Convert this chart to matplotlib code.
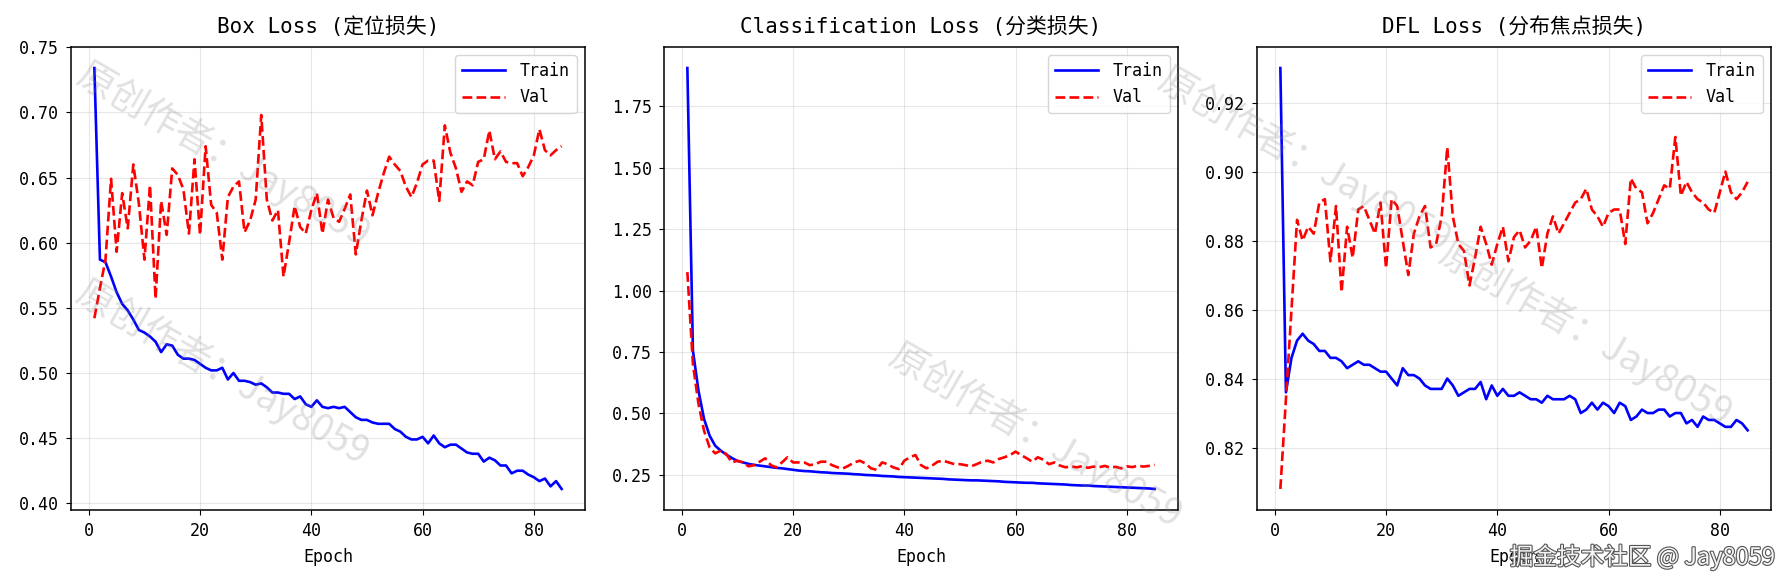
import matplotlib
matplotlib.use("Agg")
import matplotlib.pyplot as plt
import matplotlib.patheffects as pe

plt.rcParams['font.family'] = ['DejaVu Sans Mono', 'Noto Sans CJK SC']
plt.rcParams['axes.unicode_minus'] = False

epochs = list(range(1, 86))

box_train = [0.734, 0.587, 0.585, 0.574, 0.562, 0.553, 0.548, 0.541, 0.533, 0.531,
             0.528, 0.524, 0.516, 0.522, 0.521, 0.514, 0.511, 0.511, 0.510, 0.507,
             0.504, 0.502, 0.502, 0.504, 0.495, 0.500, 0.494, 0.494, 0.493, 0.491,
             0.492, 0.489, 0.485, 0.485, 0.484, 0.484, 0.480, 0.482, 0.476, 0.474,
             0.479, 0.474, 0.473, 0.474, 0.473, 0.474, 0.470, 0.466, 0.464, 0.464,
             0.462, 0.461, 0.461, 0.461, 0.457, 0.455, 0.451, 0.449, 0.449, 0.451,
             0.446, 0.452, 0.446, 0.443, 0.445, 0.445, 0.442, 0.439, 0.438, 0.438,
             0.432, 0.435, 0.433, 0.429, 0.429, 0.423, 0.425, 0.425, 0.422, 0.420,
             0.417, 0.419, 0.413, 0.417, 0.411]
box_val = [0.542, 0.565, 0.587, 0.649, 0.593, 0.638, 0.611, 0.660, 0.630, 0.587,
           0.644, 0.557, 0.632, 0.606, 0.657, 0.652, 0.641, 0.607, 0.664, 0.606,
           0.674, 0.629, 0.623, 0.587, 0.635, 0.643, 0.647, 0.608, 0.617, 0.633,
           0.698, 0.633, 0.617, 0.625, 0.574, 0.600, 0.628, 0.612, 0.607, 0.625,
           0.638, 0.607, 0.633, 0.619, 0.616, 0.626, 0.637, 0.591, 0.617, 0.640,
           0.621, 0.638, 0.653, 0.666, 0.660, 0.655, 0.643, 0.635, 0.646, 0.660,
           0.663, 0.663, 0.632, 0.690, 0.669, 0.657, 0.639, 0.647, 0.644, 0.662,
           0.664, 0.686, 0.664, 0.670, 0.662, 0.661, 0.661, 0.651, 0.658, 0.667,
           0.687, 0.671, 0.667, 0.671, 0.674]

cls_train = [1.906, 0.755, 0.592, 0.477, 0.409, 0.368, 0.348, 0.332, 0.318, 0.306,
             0.300, 0.294, 0.290, 0.287, 0.284, 0.281, 0.278, 0.276, 0.273, 0.270,
             0.267, 0.265, 0.264, 0.262, 0.260, 0.259, 0.257, 0.256, 0.255, 0.254,
             0.252, 0.251, 0.249, 0.248, 0.247, 0.245, 0.244, 0.243, 0.241, 0.240,
             0.239, 0.238, 0.237, 0.236, 0.235, 0.234, 0.233, 0.231, 0.230, 0.229,
             0.228, 0.227, 0.227, 0.226, 0.225, 0.224, 0.223, 0.221, 0.220, 0.219,
             0.218, 0.217, 0.217, 0.215, 0.214, 0.213, 0.212, 0.211, 0.210, 0.208,
             0.207, 0.206, 0.206, 0.204, 0.203, 0.202, 0.201, 0.200, 0.199, 0.198,
             0.197, 0.196, 0.195, 0.194, 0.192]
cls_val = [1.075, 0.700, 0.538, 0.429, 0.361, 0.337, 0.348, 0.334, 0.300, 0.307,
           0.300, 0.284, 0.289, 0.303, 0.317, 0.289, 0.280, 0.300, 0.321, 0.300,
           0.300, 0.300, 0.289, 0.293, 0.303, 0.303, 0.289, 0.280, 0.276, 0.287,
           0.300, 0.307, 0.296, 0.276, 0.270, 0.300, 0.293, 0.280, 0.273, 0.307,
           0.321, 0.330, 0.289, 0.276, 0.287, 0.303, 0.307, 0.300, 0.293, 0.293,
           0.289, 0.284, 0.293, 0.303, 0.307, 0.300, 0.314, 0.321, 0.330, 0.344,
           0.330, 0.317, 0.303, 0.321, 0.311, 0.293, 0.300, 0.287, 0.280, 0.284,
           0.280, 0.285, 0.278, 0.283, 0.280, 0.286, 0.279, 0.282, 0.276, 0.284,
           0.281, 0.287, 0.283, 0.286, 0.290]

dfl_train = [0.930, 0.836, 0.846, 0.851, 0.853, 0.851, 0.850, 0.848, 0.848, 0.846,
             0.846, 0.845, 0.843, 0.844, 0.845, 0.844, 0.844, 0.843, 0.842, 0.842,
             0.840, 0.838, 0.843, 0.841, 0.841, 0.840, 0.838, 0.837, 0.837, 0.837,
             0.840, 0.838, 0.835, 0.836, 0.837, 0.837, 0.839, 0.834, 0.838, 0.835,
             0.837, 0.835, 0.835, 0.836, 0.835, 0.834, 0.834, 0.833, 0.835, 0.834,
             0.834, 0.834, 0.835, 0.834, 0.830, 0.831, 0.833, 0.831, 0.833, 0.832,
             0.830, 0.833, 0.832, 0.828, 0.829, 0.831, 0.830, 0.830, 0.831, 0.831,
             0.829, 0.830, 0.830, 0.827, 0.828, 0.826, 0.829, 0.828, 0.828, 0.827,
             0.826, 0.826, 0.828, 0.827, 0.825]
dfl_val = [0.808, 0.834, 0.860, 0.886, 0.880, 0.884, 0.882, 0.891, 0.892, 0.874,
           0.890, 0.865, 0.884, 0.875, 0.889, 0.890, 0.886, 0.882, 0.891, 0.872,
           0.892, 0.890, 0.880, 0.870, 0.882, 0.887, 0.890, 0.878, 0.879, 0.887,
           0.907, 0.887, 0.879, 0.877, 0.867, 0.875, 0.884, 0.879, 0.873, 0.879,
           0.884, 0.874, 0.881, 0.883, 0.878, 0.880, 0.884, 0.872, 0.882, 0.887,
           0.882, 0.885, 0.888, 0.891, 0.892, 0.895, 0.889, 0.887, 0.884, 0.888,
           0.889, 0.889, 0.879, 0.898, 0.895, 0.894, 0.885, 0.888, 0.892, 0.896,
           0.895, 0.910, 0.893, 0.897, 0.894, 0.892, 0.891, 0.889, 0.888, 0.894,
           0.900, 0.894, 0.892, 0.894, 0.897]

titles = ['Box Loss (定位损失)', 'Classification Loss (分类损失)', 'DFL Loss (分布焦点损失)']
panels = [(box_train, box_val), (cls_train, cls_val), (dfl_train, dfl_val)]

W, H = 1785, 584
fig = plt.figure(figsize=(W / 100, H / 100), dpi=100)

lefts = [71, 664, 1257]
for left, title, (tr, va) in zip(lefts, titles, panels):
    ax = fig.add_axes([left / W, (H - 510) / H, 514 / W, 463 / H])
    ax.plot(epochs, tr, 'b-', linewidth=1.9, label='Train')
    ax.plot(epochs, va, 'r--', linewidth=1.9, label='Val')
    ax.set_title(title, fontsize=15, pad=10)
    ax.set_xlabel('Epoch', fontsize=12, labelpad=6)
    ax.tick_params(labelsize=12, pad=5)
    ax.grid(True, alpha=0.3)
    for s in ax.spines.values():
        s.set_linewidth(1.1)
    ax.legend(loc='upper right', fontsize=12, handlelength=2.6, handletextpad=0.9)

# watermarks
marks = [(223, 155), (222, 373), (1035, 436), (1304, 160), (1585, 334)]
for cx, cy in marks:
    fig.text(cx / W, 1 - cy / H, '原创作者：Jay8059', family=['Noto Sans CJK SC', 'DejaVu Sans'],
             fontsize=27, color='#808080', alpha=0.24, rotation=-30,
             rotation_mode='anchor', ha='center', va='center')

fig.text(1775 / W, 1 - 557 / H, '掘金技术社区 @ Jay8059', family=['Noto Sans CJK SC', 'DejaVu Sans'],
         fontsize=17, color='#f4f4f4', ha='right', va='center',
         path_effects=[pe.withStroke(linewidth=1.6, foreground='#555555')])

fig.savefig('out.png', dpi=100)
